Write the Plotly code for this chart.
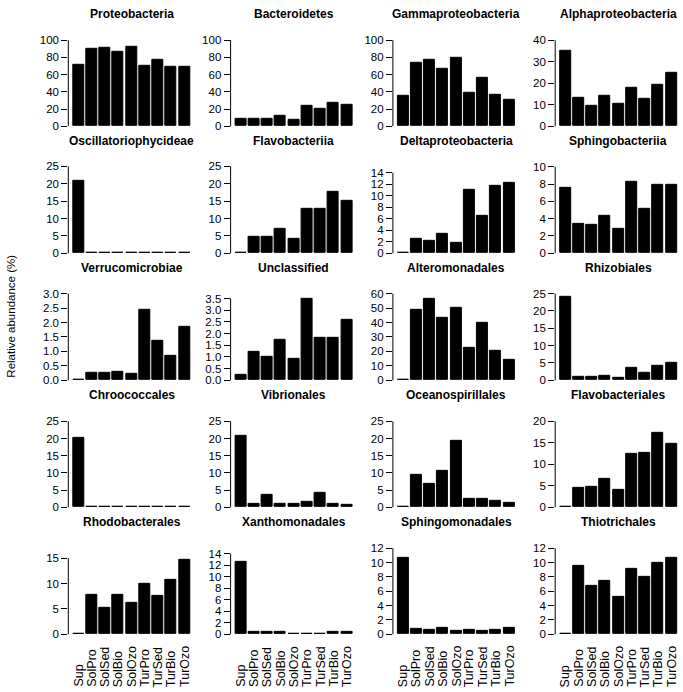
import plotly.graph_objects as go

categories = ["Sup", "SolPro", "SolSed", "SolBio", "SolOzo", "TurPro", "TurSed", "TurBio", "TurOzo"]

proteobacteria = [71, 90, 90.5, 86.5, 92, 70.5, 77, 69.5, 69.5]
bacteroidetes = [8.5, 9, 9, 12, 7.7, 23.5, 20, 27.5, 25]
gammaproteobacteria = [35, 73.5, 77.5, 67, 80, 39, 56.5, 36.5, 30.5]
alphaproteobacteria = [35.2, 13, 9.6, 14.3, 10.3, 17.9, 12.6, 19.2, 24.7]
oscillatoriophycideae = [20.8, 0, 0, 0, 0, 0, 0, 0, 0]
flavobacteriia = [0, 4.6, 4.7, 6.9, 4.2, 12.8, 12.9, 17.6, 15.0]
deltaproteobacteria = [0, 2.5, 2.1, 3.3, 1.8, 11.0, 6.5, 11.7, 12.2]
sphingobacteriia = [7.6, 3.4, 3.3, 4.3, 2.8, 8.3, 5.2, 7.9, 7.9]
verrucomicrobiae = [0.02, 0.25, 0.25, 0.3, 0.24, 2.45, 1.37, 0.85, 1.86]
unclassified = [0.25, 1.2, 0.99, 1.73, 0.93, 3.47, 1.8, 1.8, 2.6]
alteromonadales = [0.3, 48.7, 56.1, 43.2, 50.3, 22.2, 39.5, 20.3, 14.3]
rhizobiales = [24.1, 1.1, 1.0, 1.2, 0.6, 3.7, 2.2, 4.2, 5.0]
chroococcales = [20.3, 0, 0, 0, 0, 0, 0, 0, 0]
vibrionales = [20.7, 1.1, 3.5, 1.1, 0.9, 1.6, 4.3, 1.1, 0.8]
oceanospirillales = [0, 9.3, 6.7, 10.7, 19.4, 2.6, 2.5, 1.8, 1.2]
flavobacteriales = [0, 4.5, 4.7, 6.6, 4.1, 12.5, 12.7, 17.3, 14.7]
rhodobacterales = [0, 7.7, 5.2, 7.8, 6.2, 10.0, 7.6, 10.8, 14.7]
xanthomonadales = [12.6, 0.4, 0.35, 0.35, 0.12, 0.17, 0.12, 0.35, 0.4]
sphingomonadales = [10.7, 0.75, 0.6, 0.95, 0.5, 0.6, 0.55, 0.65, 0.95]
thiotrichales = [0, 9.6, 6.7, 7.4, 5.2, 9.1, 8.0, 9.9, 10.6]

# (title, values, top tick, tick step, decimals)
panels = [
    ("Proteobacteria", proteobacteria, 100, 20, 0),
    ("Bacteroidetes", bacteroidetes, 100, 20, 0),
    ("Gammaproteobacteria", gammaproteobacteria, 100, 20, 0),
    ("Alphaproteobacteria", alphaproteobacteria, 40, 10, 0),
    ("Oscillatoriophycideae", oscillatoriophycideae, 25, 5, 0),
    ("Flavobacteriia", flavobacteriia, 25, 5, 0),
    ("Deltaproteobacteria", deltaproteobacteria, 14, 2, 0),
    ("Sphingobacteriia", sphingobacteriia, 10, 2, 0),
    ("Verrucomicrobiae", verrucomicrobiae, 3.0, 0.5, 1),
    ("Unclassified", unclassified, 3.5, 0.5, 1),
    ("Alteromonadales", alteromonadales, 60, 10, 0),
    ("Rhizobiales", rhizobiales, 25, 5, 0),
    ("Chroococcales", chroococcales, 25, 5, 0),
    ("Vibrionales", vibrionales, 25, 5, 0),
    ("Oceanospirillales", oceanospirillales, 25, 5, 0),
    ("Flavobacteriales", flavobacteriales, 20, 5, 0),
    ("Rhodobacterales", rhodobacterales, 15, 5, 0),
    ("Xanthomonadales", xanthomonadales, 14, 2, 0),
    ("Sphingomonadales", sphingomonadales, 12, 2, 0),
    ("Thiotrichales", thiotrichales, 12, 2, 0),
]

# pixel height of top tick above zero, per panel (layout)
top_px = [86.7, 86.7, 86.7, 86.7,
          87.5, 87.5, 81.0, 87.0,
          87.2, 82.2, 87.2, 87.2,
          86.5, 86.5, 86.5, 86.5,
          76.7, 81.0, 86.7, 86.7]

W, H = 683, 692
FONT = "Liberation Sans, Arial, Helvetica, sans-serif"

fig = go.Figure()
layout = dict(
    width=W, height=H,
    margin=dict(l=0, r=0, t=0, b=0),
    paper_bgcolor="white", plot_bgcolor="white",
    showlegend=False, bargap=0,
    font=dict(family=FONT, color="black"),
)
annotations = []
shapes = []

xpos = [0.7 + 1.2 * i for i in range(len(categories))]
ppu = 117.0 / 10.6
pad_units = 4.7 / ppu

for k, (title, vals, top, step, dec) in enumerate(panels):
    r, c = divmod(k, 4)
    i = k + 1
    xa = "x" if i == 1 else f"x{i}"
    ya = "y" if i == 1 else f"y{i}"
    xkey = "xaxis" if i == 1 else f"xaxis{i}"
    ykey = "yaxis" if i == 1 else f"yaxis{i}"

    ax_px = 68.3 + 162.3 * c
    right_px = ax_px + 126.4
    zero_px = 125.0 + 127.75 * r
    h = top_px[k]
    bot_dom = zero_px + 4.0
    top_dom = zero_px - 91.0
    upp = top / h

    fig.add_trace(go.Bar(
        x=xpos, y=vals, width=1.0, xaxis=xa, yaxis=ya,
        marker=dict(color="black", line=dict(color="black", width=1)),
        hoverinfo="skip",
    ))

    layout[xkey] = dict(
        domain=[ax_px / W, min(right_px / W, 1.0)],
        range=[0.2 - pad_units, 10.8 + pad_units],
        anchor=ya, showgrid=False, zeroline=False, showline=False,
        ticks="", showticklabels=False,
    )
    nt = int(round(top / step))
    tv = [step * j for j in range(nt + 1)]
    tt = [f"{v:.{dec}f}" for v in tv]
    layout[ykey] = dict(
        domain=[1 - bot_dom / H, 1 - top_dom / H],
        range=[-4.0 * upp, 91.0 * upp],
        anchor=xa, showgrid=False, zeroline=False, showline=False,
        ticks="outside", ticklen=6, tickwidth=1, tickcolor="black",
        tickvals=tv, ticktext=tt,
        tickfont=dict(size=11.5, family=FONT, color="black"),
    )
    shapes.append(dict(
        type="line", xref=f"{xa} domain", yref=ya,
        x0=0, x1=0, y0=0, y1=top,
        line=dict(color="black", width=1),
    ))
    annotations.append(dict(
        text=f"<b>{title}</b>", xref="paper", yref="paper",
        x=(ax_px + 63.2) / W, y=1 - (11.6 + 127.75 * r) / H,
        xanchor="center", yanchor="middle", showarrow=False,
        font=dict(size=12, family=FONT, color="black"),
    ))
    if r == 4:
        for xv, lab in zip(xpos, categories):
            annotations.append(dict(
                text=lab, xref=xa, yref="paper",
                x=xv, y=1 - 690.0 / H,
                xanchor="center", yanchor="bottom", textangle=-90,
                showarrow=False, borderpad=0,
                font=dict(size=12.5, family=FONT, color="black"),
            ))

annotations.append(dict(
    text="Relative abundance (%)", xref="paper", yref="paper",
    x=11.5 / W, y=1 - 316 / H, xanchor="center", yanchor="middle",
    textangle=-90, showarrow=False,
    font=dict(size=11.5, family=FONT, color="black"),
))

layout["annotations"] = annotations
layout["shapes"] = shapes
fig.update_layout(**layout)
fig.write_html(
    "out.html",
    config={"displayModeBar": False},
    post_script="document.body.style.margin='0';document.body.style.overflow='hidden';",
)
